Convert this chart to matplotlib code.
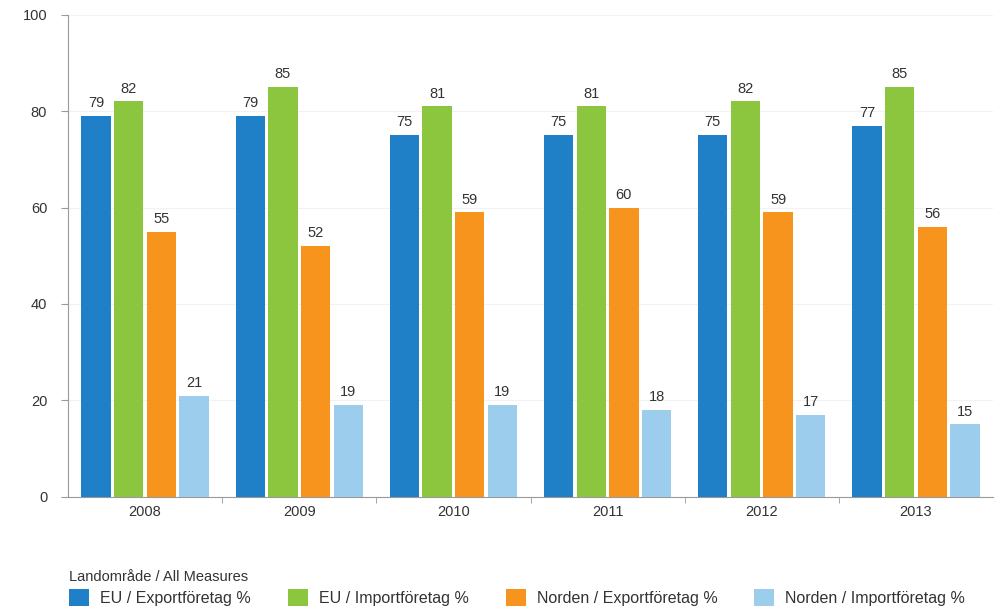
import numpy as np
import matplotlib.pyplot as plt
from matplotlib.patches import Patch

plt.rcParams['font.family'] = ['Liberation Sans', 'DejaVu Sans']

years = ['2008', '2009', '2010', '2011', '2012', '2013']
eu_export = [79, 79, 75, 75, 75, 77]
eu_import = [82, 85, 81, 81, 82, 85]
norden_export = [55, 52, 59, 60, 59, 56]
norden_import = [21, 19, 19, 18, 17, 15]

series = [eu_export, eu_import, norden_export, norden_import]
labels = ['EU / Exportföretag %', 'EU / Importföretag %',
          'Norden / Exportföretag %', 'Norden / Importföretag %']
colors = ['#1f80c8', '#8cc63e', '#f7941e', '#9dcdec']

fig = plt.figure(figsize=(10, 6.14), dpi=100)
ax = fig.add_axes([0.068, 0.191, 0.925, 0.785])

x = np.arange(len(years))
width = 0.19
step = 0.212
for i, (vals, col) in enumerate(zip(series, colors)):
    pos = x + (i - 1.5) * step
    ax.bar(pos, vals, width=width, color=col, zorder=3)
    for p, v in zip(pos, vals):
        ax.text(p, v + 1.2, str(v), ha='center', va='bottom',
                fontsize=10.5, color='#333333')

ax.set_ylim(0, 100)
ax.set_xlim(-0.5, len(years) - 0.5)
ax.set_yticks([0, 20, 40, 60, 80, 100])
ax.yaxis.grid(True, color='#f2f2f2', linewidth=0.8, zorder=0)
ax.set_xticks(x)
ax.set_xticklabels(years)
ax.set_xticks(np.arange(0.5, len(years) - 0.5), minor=True)
ax.tick_params(axis='x', which='major', length=0, pad=6, labelsize=10.5, labelcolor='#333333')
ax.tick_params(axis='x', which='minor', length=4, color='#999999', direction='out')
ax.tick_params(axis='y', length=5, color='#999999', labelsize=10.5, labelcolor='#333333', pad=10)

for s in ['top', 'right']:
    ax.spines[s].set_visible(False)
ax.spines['left'].set_color('#999999')
ax.spines['bottom'].set_color('#999999')

handles = [Patch(facecolor=c, label=l) for c, l in zip(colors, labels)]
leg = fig.legend(handles=handles, loc='lower left', bbox_to_anchor=(0.058, -0.005),
                 ncol=4, frameon=False, fontsize=11.5, title='Landområde / All Measures',
                 title_fontsize=10.5, alignment='left', handlelength=1.25, handleheight=1.25,
                 columnspacing=2.3, handletextpad=0.7, borderpad=0.2, labelspacing=0.3)
for t in leg.get_texts():
    t.set_color('#333333')
leg.get_title().set_color('#333333')

fig.savefig('out.png', dpi=100)
